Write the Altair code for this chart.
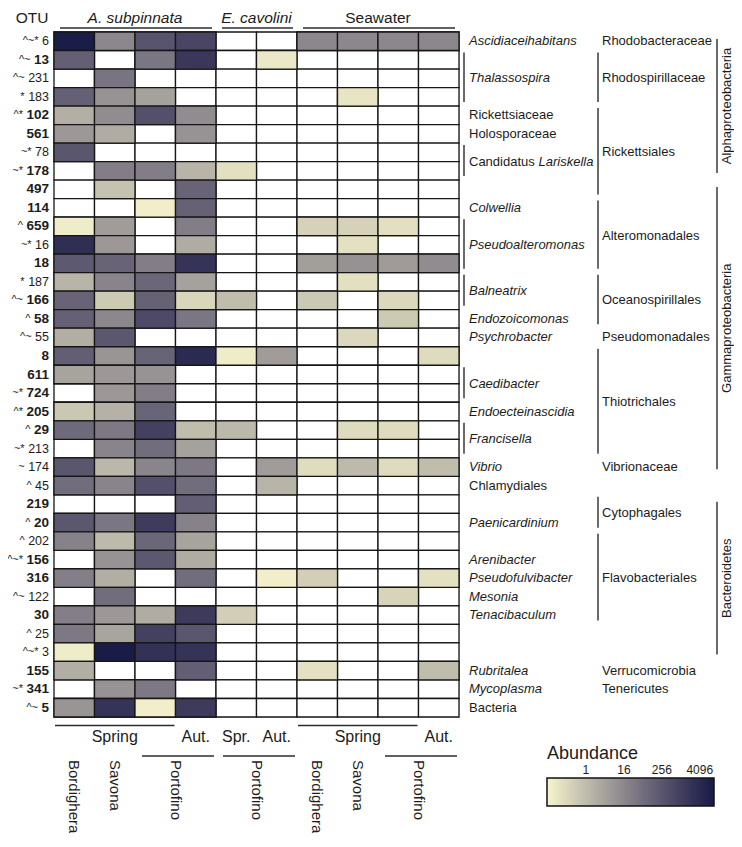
import altair as alt
import pandas as pd

N = None

# ---------------- data ----------------
otu_ids = ["6", "13", "231", "183", "102", "561", "78", "178", "497", "114", "659", "16", "18",
           "187", "166", "58", "55", "8", "611", "724", "205", "29", "213", "174", "45", "219",
           "20", "202", "156", "316", "122", "30", "25", "3", "155", "341", "5"]
otu_marks = ["^~*", "^~", "^~", "*", "^*", "", "~*", "~*", "", "", "^", "~*", "",
             "*", "^~", "^", "^~", "", "", "~*", "^*", "^", "~*", "~", "^", "",
             "^", "^", "^~*", "", "^~", "", "^", "^~*", "", "~*", "^~"]
otu_bold = [False, True, False, False, True, True, False, True, True, True, True, False, True,
            False, True, True, False, True, True, True, True, True, False, False, False, True,
            True, False, True, True, False, True, False, False, True, True, True]

sample_ids = ["As_Bor_Spr", "As_Sav_Spr", "As_Por_Spr", "As_Por_Aut", "Ec_Por_Spr",
              "Ec_Por_Aut", "Sw_Bor_Spr", "Sw_Sav_Spr", "Sw_Por_Spr", "Sw_Por_Aut"]

as_bordighera = [9300, 149, N, 141, 1.9, 6.3, 256, N, N, N, 0.085, 3000, 218, 1.45, 120, 141, 2.0,
                 158, 3.7, N, 0.57, 82, N, 256, 66, N, 244, 21, N, 26, N, 26, 36, 0.085, 2.0, N, 7.5]
as_savona = [16, N, 45, 8.8, 12, 2.25, N, 27, 0.72, N, 5.1, 6.3, 120, 19, 0.49, 16, 244, 7.5, 6.3,
             6.3, 1.7, 36, 19, 1.3, 19, N, 40, 1.1, 8.8, 2.0, 66, 6.3, 3.5, 10400, N, 8.8, 2150]
as_portofino_spr = [286, 40, N, 4.1, 375, N, N, 27, N, 0.08, N, N, 27, 96, 133, 550, N, 114, 8.8,
                    27, 108, 900, 66, 18, 375, N, 1300, 96, 230, N, N, 2.25, 900, 2400, N, 36, 0.08]
as_portofino_aut = [685, 1630, N, N, 12, 8.8, N, 1.5, 120, 133, 27, 2.25, 2150, 4.1, 0.27, 40, N,
                    3900, N, N, N, 0.94, 4.1, 36, 66, 158, 21, 3.7, 2.25, 66, N, 1350, 256, 2150,
                    158, N, 1350]
ec_portofino_spr = [N, N, N, N, N, N, N, 0.165, N, N, N, N, N, N, 0.94, N, N, 0.085, N, N,
                    N, 1.16, N, N, N, N, N, N, N, N, N, 0.39, N, N, N, N, N]
ec_portofino_aut = [N, 0.11, N, N, N, N, N, N, N, N, N, N, N, N, N, N, N, 5.1, N, N,
                    N, N, N, 5.1, 1.5, N, N, N, N, 0.08, N, N, N, N, N, N, N]
sw_bordighera = [16, N, N, N, N, N, N, N, N, N, 0.33, N, 4.8, N, 0.54, N, N, N, N, N,
                 N, N, N, 0.19, N, N, N, N, N, 0.39, N, N, N, N, 0.155, N, N]
sw_savona = [16, N, N, 0.125, N, N, N, N, N, N, 0.33, 0.155, 9.3, 0.165, N, N, 0.24, N, N, N,
             N, 0.21, N, 1.1, N, N, N, N, N, N, N, N, N, N, N, N, N]
sw_portofino_spr = [16, N, N, N, N, N, N, N, N, N, 0.165, N, 5.4, N, 0.24, 0.49, N, N, N, N,
                    N, 0.21, N, 0.21, N, N, N, N, N, N, 0.3, N, N, N, N, N, N]
sw_portofino_aut = [16, N, N, N, N, N, N, N, N, N, N, N, 12, N, N, N, N, 0.21, N, N,
                    N, N, N, 0.94, N, N, N, N, N, 0.155, N, N, N, N, 0.94, N, N]

header_names = ["A. subpinnata", "E. cavolini", "Seawater"]
header_first = [0, 4, 6]
header_last = [3, 5, 9]
header_style = ["italic", "italic", "normal"]

season_names = ["Spring", "Aut.", "Spr.", "Aut.", "Spring", "Aut."]
season_first = [0, 3, 4, 5, 6, 9]
season_last = [2, 3, 4, 5, 8, 9]

site_names = ["Bordighera", "Savona", "Portofino", "Portofino", "Bordighera", "Savona", "Portofino"]
site_first = [0, 1, 2, 4, 6, 7, 8]
site_last = [0, 1, 3, 5, 6, 7, 9]

genus_names = ["Ascidiaceihabitans", "Thalassospira", "Rickettsiaceae", "Holosporaceae",
               "Candidatus Lariskella", "Colwellia", "Pseudoalteromonas", "Balneatrix",
               "Endozoicomonas", "Psychrobacter", "Caedibacter", "Endoecteinascidia", "Francisella",
               "Vibrio", "Chlamydiales", "Paenicardinium", "Arenibacter", "Pseudofulvibacter",
               "Mesonia", "Tenacibaculum", "Rubritalea", "Mycoplasma", "Bacteria"]
genus_first = ["6", "13", "102", "561", "78", "114", "659", "187", "58", "55", "611", "205", "29",
               "174", "45", "20", "156", "316", "122", "30", "155", "341", "5"]
genus_last = ["6", "183", "102", "561", "178", "114", "18", "166", "58", "55", "724", "205", "213",
              "174", "45", "20", "156", "316", "122", "30", "155", "341", "5"]
genus_style = ["italic", "italic", "normal", "normal", "mixed", "italic", "italic", "italic",
               "italic", "italic", "italic", "italic", "italic", "italic", "normal", "italic",
               "italic", "italic", "italic", "italic", "italic", "italic", "normal"]

order_names = ["Rhodobacteraceae", "Rhodospirillaceae", "Rickettsiales", "Alteromonadales",
               "Oceanospirillales", "Pseudomonadales", "Thiotrichales", "Vibrionaceae",
               "Cytophagales", "Flavobacteriales", "Verrucomicrobia", "Tenericutes"]
order_first = ["6", "13", "102", "114", "187", "55", "8", "174", "219", "202", "155", "341"]
order_last = ["6", "183", "497", "18", "58", "55", "213", "174", "20", "30", "155", "341"]

class_names = ["Alphaproteobacteria", "Gammaproteobacteria", "Bacteroidetes"]
class_first = ["6", "497", "219"]
class_last = ["178", "174", "3"]

legend_values = [1, 16, 256, 4096]

# ---------------- tables ----------------
columns = [as_bordighera, as_savona, as_portofino_spr, as_portofino_aut, ec_portofino_spr,
           ec_portofino_aut, sw_bordighera, sw_savona, sw_portofino_spr, sw_portofino_aut]
recs = []
for j, (sid, vals) in enumerate(zip(sample_ids, columns)):
    for i, (otu, v) in enumerate(zip(otu_ids, vals)):
        recs.append({"otu": otu, "sample": sid, "row": i, "col": j, "v": v})
cells = pd.DataFrame(recs)

row_of = {o: i for i, o in enumerate(otu_ids)}
n_rows = len(otu_ids)
n_cols = len(sample_ids)


def group_df(names, firsts, lasts, styles=None):
    d = pd.DataFrame({"name": names,
                      "first": [row_of[f] for f in firsts],
                      "last": [row_of[l] for l in lasts]})
    if styles is not None:
        d["style"] = styles
    return d


def col_df(names, firsts, lasts, styles=None):
    d = pd.DataFrame({"name": names, "first": firsts, "last": lasts})
    if styles is not None:
        d["style"] = styles
    return d


# ---------------- styling ----------------
TXT = "#1c1c1c"
LINE = "#2c2c2c"
GRID = "#161616"
FONT = "Liberation Sans"

XS = alt.Scale(domain=[0, n_cols], nice=False, zero=False)
YS = alt.Scale(domain=[0, n_rows], nice=False, zero=False, reverse=True)
CS = alt.Scale(type="log", domain=[0.058, 11600], range=["#f7f5cd", "#161a45"], interpolate="lab")


def X(f):
    return alt.X(f, type="quantitative", scale=XS, axis=None)


def Y(f):
    return alt.Y(f, type="quantitative", scale=YS, axis=None)


legend = alt.Legend(title="Abundance", orient="none", legendX=493, legendY=713,
                    direction="horizontal", gradientLength=167, gradientThickness=28,
                    values=legend_values, format="d", titleFontSize=18, titleFontWeight="normal",
                    titleColor=TXT, titleFont=FONT, titlePadding=15, titleAnchor="start",
                    labelFontSize=12, labelColor=TXT, labelFont=FONT,
                    labelOffset={"expr": "-41"},
                    labelOverlap=False, gradientStrokeColor="#111111", gradientStrokeWidth=1.5,
                    padding=0)

layers = []

# heatmap
hb = alt.Chart(cells).transform_calculate(col1="datum.col + 1", row1="datum.row + 1")
layers.append(hb.mark_rect(fill="white", stroke=GRID, strokeWidth=1.3).encode(
    x=X("col"), x2="col1:Q", y=Y("row"), y2="row1:Q"))
layers.append(hb.transform_filter("isValid(datum.v)").mark_rect(stroke=GRID, strokeWidth=1.3).encode(
    x=X("col"), x2="col1:Q", y=Y("row"), y2="row1:Q",
    fill=alt.Fill("v:Q", scale=CS, legend=legend)))

# left OTU labels
left = pd.DataFrame({"otu": otu_ids, "row": list(range(n_rows)), "mark": otu_marks, "bold": otu_bold})
lb = alt.Chart(left).transform_calculate(mid="datum.row + 0.5")
layers.append(lb.transform_filter("datum.bold").mark_text(
    align="right", baseline="middle", fontSize=13.5, fontWeight="bold", color=TXT).encode(
    x=alt.value(-5), y=Y("mid"), text="otu:N"))
layers.append(lb.transform_filter("!datum.bold").mark_text(
    align="right", baseline="middle", fontSize=12.5, color=TXT).encode(
    x=alt.value(-5), y=Y("mid"), text="otu:N"))
layers.append(lb.transform_filter("datum.mark != ''").transform_calculate(
    px="-5 - length(datum.otu) * (datum.bold ? 7.5 : 6.95) - 3.5").mark_text(
    align="right", baseline="middle", fontSize=11, color=TXT).encode(
    x=alt.X("px:Q", scale=None), y=Y("mid"), text="mark:N"))

# header
layers.append(alt.Chart(pd.DataFrame({"t": ["OTU"]})).mark_text(
    align="center", baseline="middle", fontSize=15.5, color=TXT).encode(
    x=alt.value(-22), y=alt.value(-14), text="t:N"))
hd = alt.Chart(col_df(header_names, header_first, header_last, header_style)).transform_calculate(
    mid="(datum.first + datum.last + 1) / 2", end="datum.last + 1")
for st in ["italic", "normal"]:
    layers.append(hd.transform_filter(alt.datum.style == st).mark_text(
        align="center", baseline="middle", fontSize=15.5, fontStyle=st, color=TXT).encode(
        x=X("mid"), y=alt.value(-14), text="name:N"))
layers.append(hd.mark_rule(color=LINE, strokeWidth=1.5, xOffset=6, x2Offset=-4).encode(
    x=X("first"), x2="end:Q", y=alt.value(-4)))

# bottom: seasons
sd = alt.Chart(col_df(season_names, season_first, season_last)).transform_calculate(
    mid="(datum.first + datum.last + 1) / 2", end="datum.last + 1")
layers.append(sd.mark_text(align="center", baseline="middle", fontSize=16, color=TXT).encode(
    x=X("mid"), y=alt.value(704.5), text="name:N"))
layers.append(sd.transform_filter("datum.last > datum.first").mark_rule(
    color=LINE, strokeWidth=1.5, xOffset=1, x2Offset=-1).encode(
    x=X("first"), x2="end:Q", y=alt.value(693.5)))

# bottom: sites
sitd = alt.Chart(col_df(site_names, site_first, site_last)).transform_calculate(
    mid="(datum.first + datum.last + 1) / 2", end="datum.last + 1")
layers.append(sitd.mark_text(align="left", baseline="middle", angle=90, fontSize=15, color=TXT).encode(
    x=X("mid"), y=alt.value(728), text="name:N"))
layers.append(sitd.transform_filter("datum.last > datum.first").mark_rule(
    color=LINE, strokeWidth=1.5, xOffset=7, x2Offset=-2).encode(
    x=X("first"), x2="end:Q", y=alt.value(724)))

# right: genus column
gd = alt.Chart(group_df(genus_names, genus_first, genus_last, genus_style)).transform_calculate(
    mid="(datum.first + datum.last + 1) / 2", end="datum.last + 1")
for st in ["italic", "normal"]:
    layers.append(gd.transform_filter(alt.datum.style == st).mark_text(
        align="left", baseline="middle", fontSize=13, fontStyle=st, color=TXT).encode(
        x=alt.value(415), y=Y("mid"), text="name:N"))
layers.append(gd.transform_filter(alt.datum.style == "mixed").transform_calculate(
    part="split(datum.name, ' ')[0]").mark_text(
    align="left", baseline="middle", fontSize=13, color=TXT).encode(
    x=alt.value(415), y=Y("mid"), text="part:N"))
layers.append(gd.transform_filter(alt.datum.style == "mixed").transform_calculate(
    part="split(datum.name, ' ')[1]").mark_text(
    align="left", baseline="middle", fontSize=13, fontStyle="italic", dx=69.5, color=TXT).encode(
    x=alt.value(415), y=Y("mid"), text="part:N"))
layers.append(gd.transform_filter("datum.last > datum.first").mark_rule(
    color=LINE, strokeWidth=1.4, yOffset=2, y2Offset=-4).encode(
    x=alt.value(410), y=Y("first"), y2="end:Q"))

# right: order / family column
od = alt.Chart(group_df(order_names, order_first, order_last)).transform_calculate(
    mid="(datum.first + datum.last + 1) / 2", end="datum.last + 1")
layers.append(od.mark_text(align="left", baseline="middle", fontSize=13, color=TXT).encode(
    x=alt.value(548), y=Y("mid"), text="name:N"))
layers.append(od.transform_filter("datum.last > datum.first").mark_rule(
    color=LINE, strokeWidth=1.4, yOffset=2, y2Offset=-4).encode(
    x=alt.value(544), y=Y("first"), y2="end:Q"))

# right: class column
cd = alt.Chart(group_df(class_names, class_first, class_last)).transform_calculate(
    mid="(datum.first + datum.last + 1) / 2", end="datum.last + 1")
layers.append(cd.mark_text(align="center", baseline="middle", angle=270, fontSize=13, color=TXT).encode(
    x=alt.value(673), y=Y("mid"), text="name:N"))
layers.append(cd.mark_rule(color=LINE, strokeWidth=1.4, yOffset=7, y2Offset=-7).encode(
    x=alt.value(663), y=Y("first"), y2="end:Q"))

chart = alt.layer(*layers).properties(
    width=405, height=685,
    autosize=alt.AutoSizeParams(type="none"),
    padding={"left": 46, "top": 24, "right": 275, "bottom": 116},
).configure_view(stroke=None).configure(font=FONT, background="white")

chart.save("out.html", embed_options={"renderer": "svg", "actions": False})
